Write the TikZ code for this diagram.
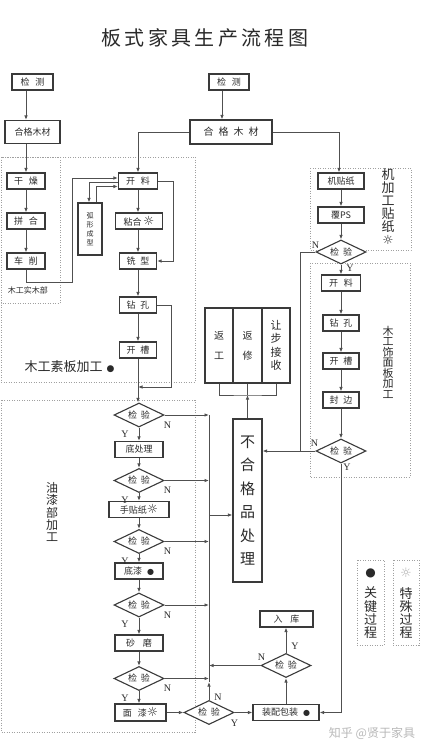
\documentclass[tikz,border=0pt]{standalone}
\usepackage{fontspec}
\setmainfont{Noto Sans CJK SC}
\newfontfamily\latf{Liberation Serif}
\newfontfamily\symf{DejaVu Sans}
\usetikzlibrary{shapes.geometric,arrows.meta}
\definecolor{lnc}{HTML}{505050}
\definecolor{bdc}{HTML}{3A3A3A}
\definecolor{txc}{HTML}{2A2A2A}
\definecolor{dtc}{HTML}{A0A0A0}
\newcommand{\sunsym}{{\symf\fontsize{12.5}{12}\selectfont ☼}}
\newcommand{\blackdot}{{\symf\fontsize{8}{8}\selectfont ●}}
\begin{document}
\begin{tikzpicture}[x=1pt,y=-1pt,
  every node/.style={text=txc},
  box/.style={draw=bdc, line width=1.1pt, fill=white, inner sep=0pt, minimum height=16pt, font=\fontsize{9}{10}\selectfont},
  dia/.style={diamond, aspect=2.1, draw=bdc, line width=1.1pt, fill=white, inner sep=0pt, minimum width=50pt, minimum height=24pt, font=\fontsize{9}{10}\selectfont},
  arr/.style={draw=lnc, line width=0.9pt, -{Latex[length=4.5pt,width=3.5pt]}},
  lineonly/.style={draw=lnc, line width=0.9pt},
  reg/.style={draw=dtc, line width=0.8pt, dash pattern=on 1pt off 1.5pt},
  yn/.style={font=\latf\fontsize{10}{10}\selectfont, inner sep=0pt, text=txc}]
\useasboundingbox (0,0) rectangle (432,752);
\fill[white] (0,0) rectangle (432,752);

% regions
\draw[reg] (1,157) rectangle (195,382);
\draw[reg] (1,157) rectangle (60,303);
\draw[reg] (1,400) rectangle (195,732);
\draw[reg] (310,168) rectangle (411,250);
\draw[reg] (310,263) rectangle (410,477);
\draw[reg] (357,560) rectangle (384,645);
\draw[reg] (393,560) rectangle (419,645);

% title
\node (title) at (205,38) {\fontsize{20}{24}\selectfont 板\,式\,家\,具\,生\,产\,流\,程\,图};

% left column
\node[box, minimum width=41] (jcA) at (32.5,82) {检\hspace{6pt}测};
\node[box, minimum width=55, minimum height=23] (hgA) at (32.5,132) {合格木材};
\node[box, minimum width=38] (gz) at (26,181) {干\hspace{6pt}燥};
\node[box, minimum width=38] (ph) at (26,221) {拼\hspace{6pt}合};
\node[box, minimum width=38] (cx) at (26,261) {车\hspace{6pt}削};

% middle top
\node[box, minimum width=40] (jcB) at (229,82) {检\hspace{6pt}测};
\node[box, minimum width=82, minimum height=24, font=\fontsize{10}{12}\selectfont] (hgB) at (231,132) {合\hspace{5pt}格\hspace{5pt}木\hspace{5pt}材};
\node[box, minimum width=39] (klA) at (138,181) {开\hspace{6pt}料};
\node[box, minimum width=47] (nh) at (139,221) {粘合\,\sunsym};
\node[box, minimum width=37] (xx) at (138,261) {铣\hspace{5pt}型};
\node[box, minimum width=24, minimum height=52, align=center, font=\fontsize{7}{9}\selectfont] (hx) at (90,229) {弧\\形\\成\\型};
\node[box, minimum width=37] (zkA) at (138,305) {钻\hspace{5pt}孔};
\node[box, minimum width=37] (kcA) at (138,350) {开\hspace{5pt}槽};

% right chain
\node[box, minimum width=46] (jtz) at (341,181) {机贴纸};
\node[box, minimum width=46] (fps) at (341,215) {覆PS};
\node[dia] (jyA) at (341,252) {检\hspace{4pt}验};
\node[box, minimum width=39] (klB) at (341,283) {开\hspace{6pt}料};
\node[box, minimum width=36] (zkB) at (341,323) {钻\hspace{5pt}孔};
\node[box, minimum width=36] (kcB) at (341,361) {开\hspace{5pt}槽};
\node[box, minimum width=36] (fb) at (341,400) {封\hspace{5pt}边};
\node[dia] (jyB) at (341,451) {检\hspace{4pt}验};

% rework group
\node[box, minimum width=28, minimum height=75, align=center, font=\fontsize{10}{20}\selectfont] (fg) at (219,345.5) {返\\工};
\node[box, minimum width=29, minimum height=75, align=center, font=\fontsize{10}{20}\selectfont] (fx) at (247.5,345.5) {返\\修};
\node[box, minimum width=28, minimum height=75, align=center, font=\fontsize{11}{13.3}\selectfont] (rb) at (276,345.5) {让\\步\\接\\收};
\node[box, minimum width=29, minimum height=163, align=center, font=\fontsize{15}{23.4}\selectfont] (bhg) at (247.5,500.5) {不\\合\\格\\品\\处\\理};

% paint chain
\node[dia] (d1) at (139,415) {检\hspace{4pt}验};
\node[box, minimum width=48] (dcl) at (139,449.5) {底处理};
\node[dia] (d2) at (139,480.5) {检\hspace{4pt}验};
\node[box, minimum width=60] (stz) at (139,509.5) {手贴纸\sunsym};
\node[dia] (d3) at (139,541.5) {检\hspace{4pt}验};
\node[box, minimum width=48] (dq) at (139,571) {底漆\hspace{5pt}\blackdot};
\node[dia] (d4) at (139,605) {检\hspace{4pt}验};
\node[box, minimum width=48] (sm) at (139,643) {砂\hspace{8pt}磨};
\node[dia] (d5) at (139,678.5) {检\hspace{4pt}验};
\node[box, minimum width=51, minimum height=17] (mq) at (140.5,712.5) {面\hspace{6pt}漆\sunsym};
\node[dia] (d6) at (209,712.5) {检\hspace{4pt}验};
\node[box, minimum width=66] (zb) at (286,712.5) {装配包装\hspace{5pt}\blackdot};
\node[dia] (d7) at (286,665.5) {检\hspace{4pt}验};
\node[box, minimum width=53] (rk) at (286.5,619) {入\hspace{8pt}库};

% legend
\node[font=\fontsize{12}{12}\selectfont] (lgd1) at (370.5,573) {{\symf ●}};
\node[align=center, font=\fontsize{13}{13.3}\selectfont] (lgt1) at (370.5,613) {关\\键\\过\\程};
\node[font=\fontsize{13}{13}\selectfont, text=gray!60] (lgd2) at (406,573) {{\symf ☼}};
\node[align=center, font=\fontsize{13}{13.3}\selectfont] (lgt2) at (406,613) {特\\殊\\过\\程};

% region labels
\node[font=\fontsize{8}{9}\selectfont] (lbl1) at (28,290) {木工实木部};
\node[font=\fontsize{13}{14}\selectfont, anchor=west] (lbl2) at (21,367) {木工素板加工\hspace{4pt}{\symf\fontsize{9}{9}\selectfont ●}};
\node[align=center, font=\fontsize{13}{13}\selectfont] (lbl3) at (388,207) {机\\加\\工\\贴\\纸\\\sunsym};
\node[align=center, font=\fontsize{11}{10.5}\selectfont] (lbl4) at (388,362) {木\\工\\饰\\面\\板\\加\\工};
\node[align=center, font=\fontsize{12}{12.3}\selectfont] (lbl5) at (52,512) {油\\漆\\部\\加\\工};

% watermark
\node[text=gray!55, font=\fontsize{12}{12}\selectfont] (wm) at (372,733) {知乎 @贤于家具};

% connectors, left column
\draw[arr] (jcA.south -| gz) -- (hgA.north -| gz);
\draw[arr] (hgA.south -| gz) -- (gz.north);
\draw[arr] (gz) -- (ph);
\draw[arr] (ph) -- (cx);
\draw[arr] (cx.south) -- ++(0,13) -- ++(46,0) |- ([yshift=3pt]klA.west);
\draw[arr] ([yshift=-1.5pt]klA.west) -| ([xshift=-1pt]hx.north);
\draw[arr] ([xshift=6pt]hx.north) |- ([yshift=-5.5pt]klA.west);

% middle
\draw[arr] ([xshift=-7pt]jcB.south) -- ([xshift=-7pt]jcB.south |- hgB.north);
\draw[arr] (hgB.west) -| (klA.north);
\draw[arr] (hgB.east) -| ([xshift=-2pt]jtz.north);
\draw[arr] (klA.south) -- (klA.south |- nh.north);
\draw[arr] (nh.south -| klA) -- (xx.north);
\draw[arr] (klA.east) -- ++(15.5,0) |- (xx.east);
\draw[arr] (xx.south) -- (zkA.north);
\draw[arr] (zkA.south) -- (kcA.north);
\coordinate (jA) at (138,387);
\draw[arr] (zkA.east) -- ++(14.5,0) |- (jA);
\draw[arr] (kcA.south) -- (kcA.south |- d1.north);

% right chain
\draw[arr] (jtz) -- (fps);
\draw[arr] (fps) -- (jyA);
\draw[arr] (jyA) -- (klB);
\coordinate (jB) at (300,451);
\draw[lineonly] (jyA.west) -| (jB);
\draw[arr] (klB) -- (zkB);
\draw[arr] (zkB) -- (kcB);
\draw[arr] (kcB) -- (fb);
\draw[arr] (fb) -- (jyB);
\draw[arr] (jyB.west) -- (jyB.west -| bhg.east);
\draw[arr] (jyB.south) |- (zb.east);

% rework bracket
\coordinate (br) at (247.5,395);
\draw[lineonly] (fg.south) |- (br) -| (rb.south);
\draw[lineonly] (fx.south) -- (br);
\draw[arr] (bhg.north) -- (br);

% big collector line
\coordinate (vt) at (209,415);
\coordinate (vb) at (209,682);
\draw[lineonly] (vt) -- (vb);
\draw[arr] (d6.north) -- (vb);
\draw[arr] (d1.east) -- (d1.east -| vt);
\draw[arr] (d2.east) -- (d2.east -| vt);
\draw[arr] (d3.east) -- (d3.east -| vt);
\draw[arr] (d4.east) -- (d4.east -| vt);
\draw[arr] (d5.east) -- (d5.east -| vt);
\draw[arr] (d7.west) -- (d7.west -| vt);
\coordinate (vm) at (209,515);
\draw[arr] (vm) -- (vm -| bhg.west);

% paint chain
\draw[arr] (d1) -- (dcl);
\draw[arr] (dcl) -- (d2);
\draw[arr] (d2) -- (stz);
\draw[arr] (stz) -- (d3);
\draw[arr] (d3) -- (dq);
\draw[arr] (dq) -- (d4);
\draw[arr] (d4) -- (sm);
\draw[arr] (sm) -- (d5);
\draw[arr] (d5.south) -- (d5.south |- mq.north);
\draw[arr] (mq) -- (d6);
\draw[arr] (d6) -- (zb);
\draw[arr] (zb) -- (d7);
\draw[arr] (d7.north) -- (d7.north |- rk.south);

% Y / N labels
\node[yn] (n1) at ([shift={(3,10)}]d1.east) {N};
\node[yn] (y1) at ([shift={(-14,7)}]d1.south) {Y};
\node[yn] (n2) at ([shift={(3,10)}]d2.east) {N};
\node[yn] (y2) at ([shift={(-14,7)}]d2.south) {Y};
\node[yn] (n3) at ([shift={(3,10)}]d3.east) {N};
\node[yn] (y3) at ([shift={(-14,7)}]d3.south) {Y};
\node[yn] (n4) at ([shift={(3,10)}]d4.east) {N};
\node[yn] (y4) at ([shift={(-14,7)}]d4.south) {Y};
\node[yn] (n5) at ([shift={(3,10)}]d5.east) {N};
\node[yn] (y5) at ([shift={(-14,7)}]d5.south) {Y};
\node[yn] (nA) at ([shift={(0,-7)}]jyA.west) {N};
\node[yn] (yA) at ([shift={(9,4)}]jyA.south) {Y};
\node[yn] (nB) at ([shift={(-1,-8)}]jyB.west) {N};
\node[yn] (yB) at ([shift={(6,4)}]jyB.south) {Y};
\node[yn] (n6) at ([shift={(9,-3)}]d6.north) {N};
\node[yn] (y6) at ([shift={(0,11)}]d6.east) {Y};
\node[yn] (n7) at ([shift={(1,-8)}]d7.west) {N};
\node[yn] (y7) at ([shift={(9,-7)}]d7.north) {Y};
\end{tikzpicture}
\end{document}
